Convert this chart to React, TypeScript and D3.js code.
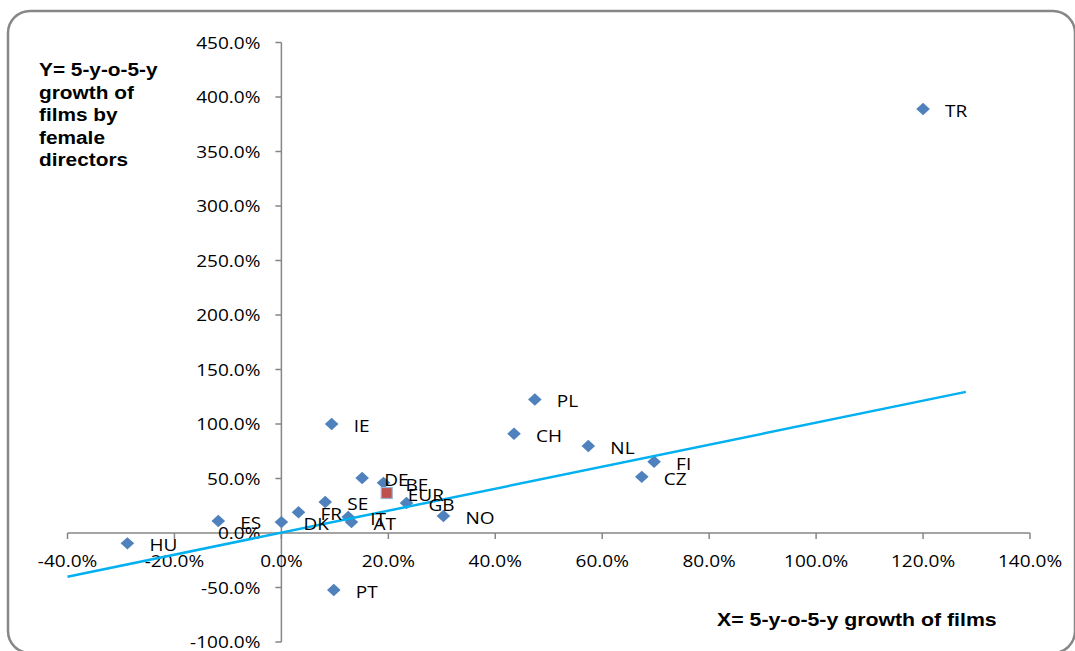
import React from "react";
import * as d3 from "d3";

const countries = ["TR", "PL", "CH", "NL", "FI", "CZ", "IE", "HU", "ES", "DK", "FR", "SE", "DE", "BE", "GB", "NO", "IT", "AT", "PT"];
const xValues = [120.0, 47.4, 43.5, 57.4, 69.7, 67.4, 9.4, -28.8, -11.8, 0.0, 3.2, 8.2, 15.1, 19.1, 23.4, 30.3, 12.5, 13.1, 9.8];
const yValues = [389, 122.5, 91, 79.8, 65.4, 51.5, 100, -9.5, 11, 10, 19, 28.5, 50.5, 46, 27.5, 15.6, 14.7, 10, -52.3];
const eurLabel = "EUR";
const eurX = 19.7;
const eurY = 36.7;
const trendIntercept = 0.3;
const trendSlope = 1.009;
const trendRange = [-40, 128];
const xTicks = [-40, -20, 0, 20, 40, 60, 80, 100, 120, 140];
const yTicks = [-100, -50, 0, 50, 100, 150, 200, 250, 300, 350, 400, 450];
const yTitleLines = ["Y= 5-y-o-5-y", "growth of", "films by", "female", "directors"];
const xTitle = "X= 5-y-o-5-y growth of films";

const SX = 1.12;
const W = 1075;
const H = 651;
const tickFont = "'Open Sans', sans-serif";
const titleFont = "'Liberation Sans', Arial, sans-serif";

function SText(props: any) {
  const { x, y, anchor = "start", size = 17, weight = "normal", family = tickFont, sx = SX, children } = props;
  return (
    <text
      transform={`translate(${x},${y}) scale(${sx},1)`}
      textAnchor={anchor}
      fontSize={size}
      fontWeight={weight}
      fontFamily={family}
      fill="#000"
    >
      {children}
    </text>
  );
}

export default function App() {
  const x = d3.scaleLinear().domain([-40, 140]).range([67.5, 1030]);
  const y = d3.scaleLinear().domain([-100, 450]).range([642, 42.5]);
  const fmt = (v: number) => d3.format(".1f")(v).replace("\u2212", "-") + "%";
  const x0 = x(0);
  const y0 = y(0);
  const axisColor = "#868686";
  const dw = 6.8;
  const dh = 6.2;
  const diamond = `M0,${-dh}L${dw},0L0,${dh}L${-dw},0Z`;
  const trendLine = d3
    .line<number>()
    .x((d) => x(d))
    .y((d) => y(trendIntercept + trendSlope * d));

  return (
    <svg width={W} height={H} style={{ position: "absolute", left: 0, top: 0 }}>
      <rect x={0} y={0} width={W} height={H} fill="#fff" />
      <rect x={8} y={11} width={1067} height={642} rx={22} ry={22} fill="#fff" stroke="#878787" strokeWidth={2.5} />

      {/* axes */}
      <line x1={x0} x2={x0} y1={y(450)} y2={y(-100)} stroke={axisColor} strokeWidth={1.5} />
      <line x1={x(-40)} x2={x(140)} y1={y0} y2={y0} stroke={axisColor} strokeWidth={1.5} />
      {yTicks.map((t) => (
        <g key={"yt" + t}>
          <line x1={x0 - 6} x2={x0} y1={y(t)} y2={y(t)} stroke={axisColor} strokeWidth={1.5} />
          <SText x={x0 - 21} y={y(t) + 6} anchor="end">
            {fmt(t)}
          </SText>
        </g>
      ))}
      {xTicks.map((t) => (
        <g key={"xt" + t}>
          <line x1={x(t)} x2={x(t)} y1={y0} y2={y0 + 6} stroke={axisColor} strokeWidth={1.5} />
          <SText x={x(t)} y={y0 + 33.5} anchor="middle">
            {fmt(t)}
          </SText>
        </g>
      ))}

      {/* points */}
      {countries.map((c, i) => (
        <path key={"p" + c} d={diamond} transform={`translate(${x(xValues[i])},${y(yValues[i])})`} fill="#4F81BD" />
      ))}
      <rect x={x(eurX) - 5.5} y={y(eurY) - 5.5} width={11} height={11} fill="#C0504D" stroke="#95B3D7" strokeWidth={1.2} />

      {/* trend line */}
      <path d={trendLine(trendRange) || ""} fill="none" stroke="#00B0F0" strokeWidth={2.5} />

      {/* labels */}
      {countries.map((c, i) => (
        <SText key={"l" + c} x={x(xValues[i]) + 22} y={y(yValues[i]) + 8}>
          {c}
        </SText>
      ))}
      <SText x={x(eurX) + 21} y={y(eurY) + 8}>
        {eurLabel}
      </SText>

      {/* titles */}
      {yTitleLines.map((l, i) => (
        <SText key={"ytl" + i} x={39} y={76 + i * 22.5} size={18.6} weight="bold" family={titleFont}>
          {l}
        </SText>
      ))}
      <SText x={717} y={626} size={18.6} sx={1.145} weight="bold" family={titleFont}>
        {xTitle}
      </SText>
    </svg>
  );
}
